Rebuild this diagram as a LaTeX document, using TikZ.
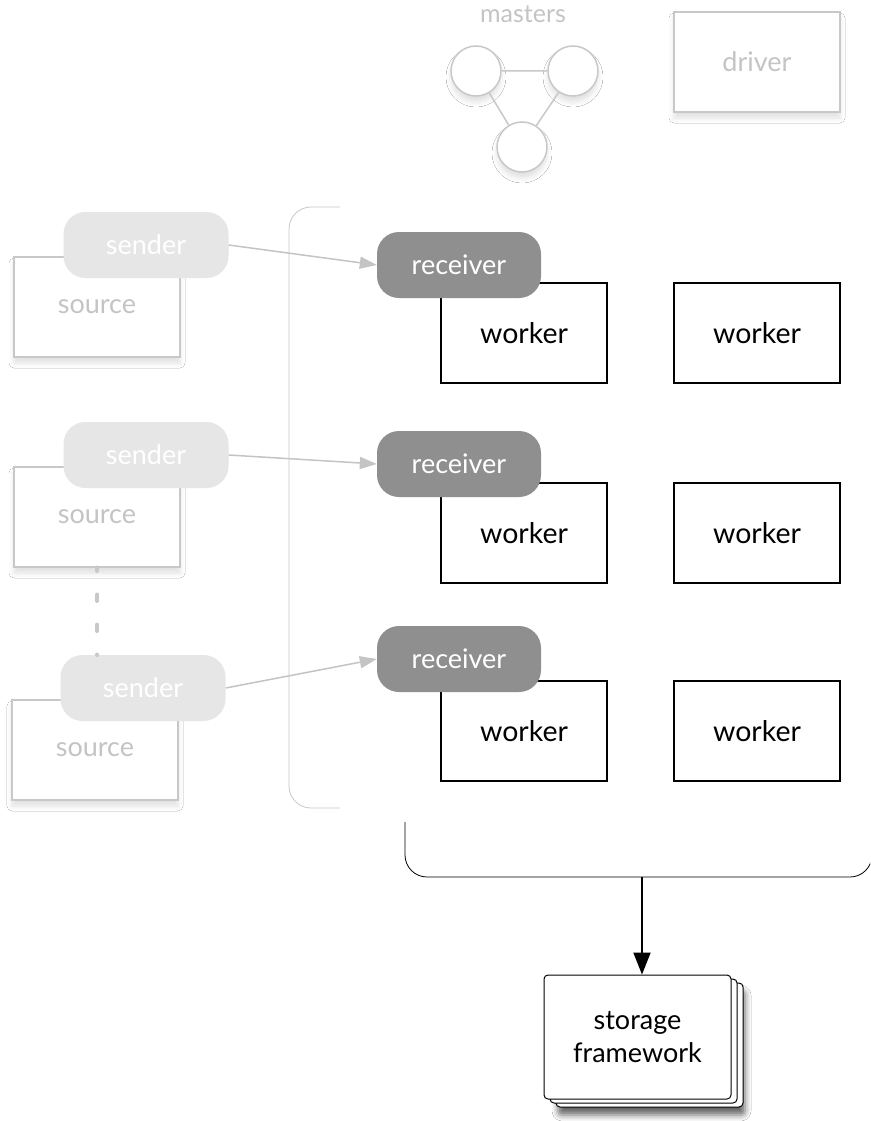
\documentclass[tikz,border=0pt]{standalone}
\usepackage{fontspec}
\setmainfont{Lato}
\usetikzlibrary{arrows.meta,shadows.blur}
\definecolor{faint}{HTML}{C8C8C8}
\definecolor{fainttext}{HTML}{C4C4C4}
\definecolor{sendfill}{HTML}{E6E6E6}
\definecolor{recvfill}{HTML}{8F8F8F}
\tikzset{
  softshadow/.style={blur shadow={shadow xshift=0pt, shadow yshift=-6pt, shadow blur radius=5pt, shadow opacity=12}},
  ghostbox/.style={draw=faint, line width=1.5pt, fill=white, minimum width=166pt, minimum height=100pt,
    text=fainttext, font=\fontsize{27}{30}\selectfont, softshadow},
  master/.style={circle, draw=faint, line width=1.5pt, fill=white, minimum size=50pt, inner sep=0pt, softshadow},
  senderpill/.style={rounded corners=22pt, fill=sendfill, minimum width=165pt, minimum height=66pt,
    text=white, font=\fontsize{27}{30}\selectfont},
  receiverpill/.style={rounded corners=22pt, fill=recvfill, minimum width=164pt, minimum height=66pt,
    text=white, font=\fontsize{27}{30}\selectfont},
  workerbox/.style={draw=black, line width=1.5pt, fill=white, minimum width=166pt, minimum height=100pt,
    font=\fontsize{28.5}{30}\selectfont},
  feed/.style={draw=fainttext, line width=1.5pt, -{Triangle[length=17pt,width=12pt]}},
  card/.style={draw=black, line width=1pt, fill=white, rounded corners=4pt, minimum width=187pt, minimum height=124pt},
  bracket/.style={line width=0.8pt, rounded corners=22pt},
}
\begin{document}
\begin{tikzpicture}[x=1pt,y=-1pt]
\useasboundingbox (0,0) rectangle (870,1121);
\clip (0,0) rectangle (870,1121);
\fill[white] (0,0) rectangle (870,1121);

% masters and driver
\node[text=fainttext, font=\fontsize{25}{28}\selectfont] (mlabel) at (523,14) {masters};
\node[master] (mA) at (476,71) {};
\node[master] (mB) at (573,71) {};
\node[master] (mC) at (522,147) {};
\draw[faint, line width=1.5pt] (mA) -- (mB) (mA) -- (mC) (mB) -- (mC);
\node[ghostbox] (driver) at (757,62) {driver};

% container of the receivers
\draw[bracket, faint] (340,207) -- (289,207) -- (289,808) -- (340,808);

% sources with their senders
\node[ghostbox] (src1) at (97,307) {source};
\node[senderpill] (snd1) at (146,245) {sender};
\node[ghostbox] (src2) at (97,517) {source};
\node[senderpill] (snd2) at (146,455) {sender};
\node[ghostbox] (src3) at (95,750) {source};
\node[senderpill] (snd3) at (143,688) {sender};
\draw[faint, line width=4.5pt, line cap=round, dash pattern=on 6pt off 24pt, dash phase=3pt]
  (src2.south) -- (src2.south |- snd3.north);

% workers and receivers
\foreach \i/\y in {1/333,2/533,3/731}{
  \node[workerbox] (wl\i) at (524,\y) {worker};
  \node[workerbox] (wr\i) at (757,\y) {worker};
}
\node[receiverpill] (rcv1) at (459,265) {receiver};
\node[receiverpill] (rcv2) at (459,464) {receiver};
\node[receiverpill] (rcv3) at (459,659) {receiver};

\draw[feed] (snd1.east) -- (rcv1.west);
\draw[feed] (snd2.east) -- (rcv2.west);
\draw[feed] (snd3.east) -- (rcv3.west);

% output bracket and storage
\draw[bracket, black] (405,822) -- (405,877) -- (872,877) -- (872,800);
\coordinate (out) at (642,877);
\node[card, blur shadow={shadow xshift=2pt, shadow yshift=-8pt, shadow blur radius=6pt, shadow opacity=60}] (c3) at (649.5,1045) {};
\node[card] (c2) at (643.5,1041) {};
\node[card, align=center, font=\fontsize{27}{33}\selectfont] (storage) at (637.5,1037) {storage\\framework};
\draw[black, line width=2pt, -{Triangle[length=22pt,width=17pt]}] (out) -- (storage.north -| out);
\end{tikzpicture}
\end{document}
